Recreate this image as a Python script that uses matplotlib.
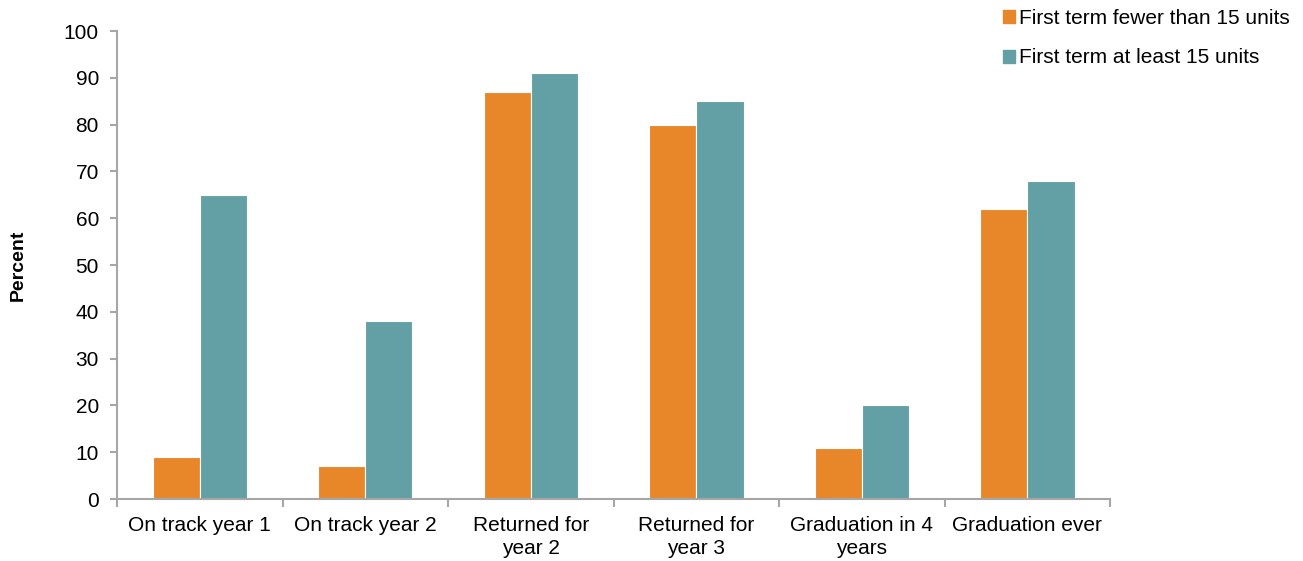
import numpy as np
import matplotlib.pyplot as plt
from matplotlib.patches import Patch

plt.rcParams['font.family'] = ['Liberation Sans', 'DejaVu Sans']

categories = ['On track year 1', 'On track year 2', 'Returned for\nyear 2',
              'Returned for\nyear 3', 'Graduation in 4\nyears', 'Graduation ever']
fewer_than_15 = [9, 7, 87, 80, 11, 62]
at_least_15 = [65, 38, 91, 85, 20, 68]

orange = '#E8862A'
teal = '#62A0A6'
axis_grey = '#A6A6A6'

fig = plt.figure(figsize=(13.03, 5.61), dpi=100)
ax = fig.add_axes([0.0898, 0.1105, 0.7622, 0.8342])

x = np.arange(len(categories))
w = 0.285
ax.bar(x - w / 2, fewer_than_15, w, color=orange, edgecolor='white', linewidth=0.8)
ax.bar(x + w / 2, at_least_15, w, color=teal, edgecolor='white', linewidth=0.8)

ax.set_xlim(-0.5, len(categories) - 0.5)
ax.set_ylim(0, 100)
ax.set_yticks(range(0, 101, 10))

# category labels centered, ticks on the boundaries between groups
ax.set_xticks(x)
ax.set_xticklabels(categories, fontsize=15, linespacing=1.3)
ax.tick_params(axis='x', length=0, pad=12)
ax.set_xticks(np.arange(-0.5, len(categories)), minor=True)
ax.tick_params(axis='x', which='minor', length=6, width=1.5, color=axis_grey, direction='out')
ax.tick_params(axis='y', length=5, width=1.5, color=axis_grey, labelsize=15, pad=8)

for side in ['top', 'right']:
    ax.spines[side].set_visible(False)
for side in ['left', 'bottom']:
    ax.spines[side].set_color(axis_grey)
    ax.spines[side].set_linewidth(1.5)

fig.text(0.014, 0.5275, 'Percent', rotation=90, fontsize=14, fontweight='bold',
         ha='center', va='center')

handles = [Patch(color=orange, label='First term fewer than 15 units'),
           Patch(color=teal, label='First term at least 15 units')]
fig.legend(handles=handles, loc='upper left', bbox_to_anchor=(0.755, 1.018),
           frameon=False, fontsize=15, handlelength=0.6, handleheight=0.6,
           handletextpad=0.2, labelspacing=1.0)

fig.savefig('out.png', dpi=100)
